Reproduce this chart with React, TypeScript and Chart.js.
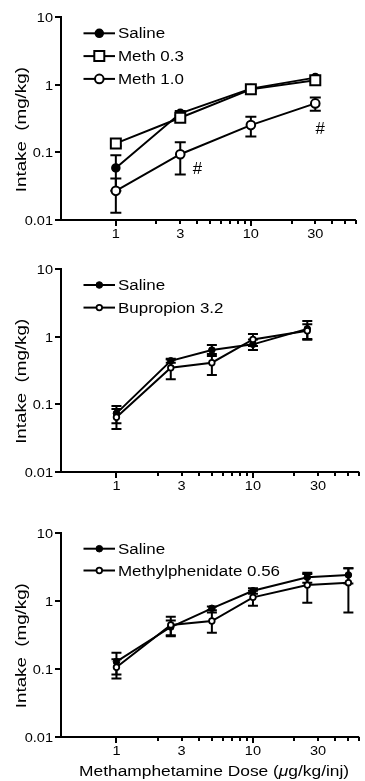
import React, { useEffect, useRef } from "react";
import { Chart, registerables } from "chart.js";

Chart.register(...registerables);

const FONT = "'Liberation Sans', Arial, Helvetica, sans-serif";

// ---------------- data ----------------
// Panel 1
const dosesA = [1, 3, 10, 30];
const salineA = [0.059, 0.38, 0.88, 1.28];
const salineASem = [0.032, 0.03, 0.05, 0.06];
const meth03 = [0.136, 0.326, 0.858, 1.17];
const meth03Sem = [0.012, 0.03, 0.05, 0.08];
const meth10 = [0.027, 0.094, 0.254, 0.532];
const meth10Sem = [0.0142, 0.047, 0.082, 0.117];
const hashX = [4.0, 32.5];
const hashY = [0.058, 0.23];

// Panel 2
const dosesB = [1, 2.5, 5, 10, 25];
const salineB = [0.073, 0.438, 0.631, 0.767, 1.3];
const salineBSem = [0.021, 0.03, 0.117, 0.136, 0.4];
const bupropion = [0.064, 0.345, 0.41, 0.908, 1.22];
const bupropionSem = [0.021, 0.112, 0.141, 0.18, 0.3];

// Panel 3
const dosesC = [1, 2.5, 5, 10, 25, 50];
const salineC = [0.127, 0.41, 0.773, 1.4, 2.21, 2.39];
const salineCSem = [0.045, 0.1, 0.05, 0.13, 0.37, 0.6];
const methylphenidate = [0.105, 0.44, 0.503, 1.12, 1.7, 1.84];
const methylphenidateSem = [0.033, 0.14, 0.165, 0.28, 0.77, 1.17];

// Axes
const yMin = 0.01;
const yMax = 10;
const yTicks = [0.01, 0.1, 1, 10];
const yTickLabels = ["0.01", "0.1", "1", "10"];
const xMin = 0.3925;
const xMax = 60;
const xMajorTicks = [1, 10];
const xMinorTicks = [2, 3, 4, 5, 6, 7, 8, 9, 20, 30, 40, 50, 60];
const xLabelTicks = [1, 3, 10, 30];
const xTickLabels = ["1", "3", "10", "30"];
const yTitle = "Intake  (mg/kg)";
const xTitleParts: [string, string][] = [
  ["Methamphetamine Dose (", "normal"],
  ["\u03bc", "italic"],
  ["g/kg/inj)", "normal"],
];

// ---------------- types ----------------
type Style = "filled" | "open" | "square";
interface Series {
  label: string;
  doses: number[];
  values: number[];
  sem: number[];
  style: Style;
}
interface PanelCfg {
  series: Series[];
  top: number;
  height: number;
  padTop: number;
  padBottom: number;
  large: boolean;
  capWidth: number;
  legendGap: number;
  hashes?: { x: number[]; y: number[] };
  xTitle?: boolean;
}

const panels: PanelCfg[] = [
  {
    series: [
      { label: "Saline", doses: dosesA, values: salineA, sem: salineASem, style: "filled" },
      { label: "Meth 0.3", doses: dosesA, values: meth03, sem: meth03Sem, style: "square" },
      { label: "Meth 1.0", doses: dosesA, values: meth10, sem: meth10Sem, style: "open" },
    ],
    top: 0,
    height: 250,
    padTop: 17.3,
    padBottom: 30,
    large: true,
    capWidth: 11,
    legendGap: 22.8,
    hashes: { x: hashX, y: hashY },
  },
  {
    series: [
      { label: "Saline", doses: dosesB, values: salineB, sem: salineBSem, style: "filled" },
      { label: "Bupropion 3.2", doses: dosesB, values: bupropion, sem: bupropionSem, style: "open" },
    ],
    top: 250,
    height: 260,
    padTop: 19,
    padBottom: 38.3,
    large: false,
    capWidth: 10,
    legendGap: 22.6,
  },
  {
    series: [
      { label: "Saline", doses: dosesC, values: salineC, sem: salineCSem, style: "filled" },
      { label: "Methylphenidate 0.56", doses: dosesC, values: methylphenidate, sem: methylphenidateSem, style: "open" },
    ],
    top: 510,
    height: 271,
    padTop: 22.7,
    padBottom: 44.3,
    large: false,
    capWidth: 10,
    legendGap: 21.8,
    xTitle: true,
  },
];

// ---------------- helpers ----------------
interface Marker {
  pointStyle: "rect" | "circle";
  radius: number;
  border: number;
  fill: string;
}
function markerFor(style: Style, large: boolean): Marker {
  if (style === "square") return { pointStyle: "rect", radius: 7.07, border: 2, fill: "#fff" };
  if (style === "filled")
    return { pointStyle: "circle", radius: large ? 4 : 3.3, border: large ? 1.5 : 1, fill: "#000" };
  return { pointStyle: "circle", radius: large ? 4.3 : 2.8, border: large ? 2 : 1.8, fill: "#fff" };
}

function drawMarker(ctx: CanvasRenderingContext2D, m: Marker, x: number, y: number) {
  ctx.save();
  ctx.fillStyle = m.fill;
  ctx.strokeStyle = "#000";
  ctx.lineWidth = m.border;
  ctx.beginPath();
  if (m.pointStyle === "rect") {
    const s = Math.SQRT1_2 * m.radius;
    ctx.rect(x - s, y - s, 2 * s, 2 * s);
  } else {
    ctx.arc(x, y, m.radius, 0, Math.PI * 2);
  }
  ctx.fill();
  ctx.stroke();
  ctx.restore();
}

function drawText(
  ctx: CanvasRenderingContext2D,
  parts: [string, string][],
  x: number,
  y: number,
  size: number,
  sx: number,
  align: "left" | "center" | "right"
) {
  ctx.save();
  let total = 0;
  const widths = parts.map(([t, st]) => {
    ctx.font = `${st} ${size}px ${FONT}`;
    const w = ctx.measureText(t).width;
    total += w;
    return w;
  });
  const x0 = align === "center" ? x - (total * sx) / 2 : align === "right" ? x - total * sx : x;
  ctx.translate(x0, y);
  ctx.scale(sx, 1);
  ctx.fillStyle = "#000";
  ctx.textAlign = "left";
  ctx.textBaseline = "alphabetic";
  let cx = 0;
  parts.forEach(([t, st], i) => {
    ctx.font = `${st} ${size}px ${FONT}`;
    ctx.fillText(t, cx, 0);
    cx += widths[i];
  });
  ctx.restore();
}

function makePlugin(cfg: PanelCfg) {
  return {
    id: "panelDeco",
    beforeDatasetsDraw(chart: any) {
      const { ctx, chartArea: a } = chart;
      const xs = chart.scales.x;
      const ys = chart.scales.y;
      const L = Math.round(a.left);
      const B = Math.round(a.bottom);
      const R = a.right;
      const T = Math.round(ys.getPixelForValue(yMax));
      ctx.save();
      ctx.strokeStyle = "#000";
      ctx.lineWidth = 2;
      ctx.beginPath();
      ctx.moveTo(L, T - 1);
      ctx.lineTo(L, B + 1);
      ctx.moveTo(L - 1, B);
      ctx.lineTo(R, B);
      ctx.stroke();
      // y ticks + labels
      yTicks.forEach((v, i) => {
        const py = Math.round(ys.getPixelForValue(v));
        ctx.beginPath();
        ctx.moveTo(L - 6, py);
        ctx.lineTo(L, py);
        ctx.stroke();
        drawText(ctx, [[yTickLabels[i], "normal"]], L - 8, py + 4.6, 13, 1.12, "right");
      });
      // x ticks
      const tick = (v: number, len: number) => {
        const px = Math.round(xs.getPixelForValue(v));
        ctx.beginPath();
        ctx.moveTo(px, B);
        ctx.lineTo(px, B + len + 1);
        ctx.stroke();
      };
      xMajorTicks.forEach((v) => tick(v, 5));
      xMinorTicks.forEach((v) => tick(v, 3));
      xLabelTicks.forEach((v, i) => {
        const px = xs.getPixelForValue(v);
        drawText(ctx, [[xTickLabels[i], "normal"]], px, B + 18.2, 13, 1.12, "center");
      });
      ctx.restore();
    },
    beforeDatasetDraw(chart: any, args: any) {
      const s = cfg.series[args.index];
      if (!s) return;
      const { ctx, chartArea: a } = chart;
      const xs = chart.scales.x;
      const ys = chart.scales.y;
      const hw = cfg.capWidth / 2;
      ctx.save();
      ctx.strokeStyle = "#000";
      ctx.lineWidth = 2;
      s.doses.forEach((d, j) => {
        const v = s.values[j];
        const e = s.sem[j];
        const px = xs.getPixelForValue(d);
        const top = ys.getPixelForValue(v + e);
        const lowVal = v - e;
        const bot = lowVal > 0 ? Math.min(ys.getPixelForValue(lowVal), a.bottom) : a.bottom;
        ctx.beginPath();
        ctx.moveTo(px, top);
        ctx.lineTo(px, bot);
        ctx.moveTo(px - hw, top);
        ctx.lineTo(px + hw, top);
        if (lowVal > 0) {
          ctx.moveTo(px - hw, bot);
          ctx.lineTo(px + hw, bot);
        }
        ctx.stroke();
      });
      ctx.restore();
    },
    afterDatasetsDraw(chart: any) {
      const { ctx, chartArea: a } = chart;
      const xs = chart.scales.x;
      const ys = chart.scales.y;
      const L = a.left;
      // legend
      cfg.series.forEach((s, r) => {
        const yy = a.top + 16 + r * cfg.legendGap;
        ctx.save();
        ctx.strokeStyle = "#000";
        ctx.lineWidth = 2;
        ctx.beginPath();
        ctx.moveTo(L + 22.5, yy);
        ctx.lineTo(L + 54, yy);
        ctx.stroke();
        ctx.restore();
        drawMarker(ctx, markerFor(s.style, cfg.large), L + 38.3, yy);
        drawText(ctx, [[s.label, "normal"]], L + 57, yy + 5, 14, 1.21, "left");
      });
      // y title
      ctx.save();
      ctx.translate(20.5, (a.top + a.bottom) / 2 + 11);
      ctx.rotate(-Math.PI / 2);
      drawText(ctx, [[yTitle, "normal"]], 0, 0.36 * 15, 15, 1.25, "center");
      ctx.restore();
      // significance marks
      if (cfg.hashes) {
        cfg.hashes.x.forEach((hx, i) => {
          const px = xs.getPixelForValue(hx);
          const py = ys.getPixelForValue(cfg.hashes!.y[i]);
          drawText(ctx, [["#", "italic"]], px, py + 5.8, 16, 1.05, "center");
        });
      }
      // x title
      if (cfg.xTitle) {
        drawText(ctx, xTitleParts, (a.left + a.right) / 2 + 4, a.bottom + 39.3, 14, 1.24, "center");
      }
    },
  };
}

function Panel({ cfg }: { cfg: PanelCfg }) {
  const ref = useRef<HTMLCanvasElement | null>(null);
  useEffect(() => {
    const canvas = ref.current;
    if (!canvas) return;
    const n = cfg.series.length;
    const chart = new Chart(canvas, {
      type: "line",
      data: {
        datasets: cfg.series.map((s, i) => {
          const m = markerFor(s.style, cfg.large);
          return {
            label: s.label,
            data: s.doses.map((d, j) => ({ x: d, y: s.values[j] })),
            borderColor: "#000",
            borderWidth: 2,
            pointStyle: m.pointStyle,
            pointRadius: m.radius,
            pointBorderWidth: m.border,
            pointBackgroundColor: m.fill,
            pointBorderColor: "#000",
            tension: 0,
            fill: false,
            order: n - i,
          };
        }),
      },
      options: {
        animation: false,
        responsive: false,
        devicePixelRatio: 1,
        events: [],
        layout: {
          padding: { left: 61, right: 5.6, top: cfg.padTop, bottom: cfg.padBottom },
        },
        scales: {
          x: { type: "logarithmic", min: xMin, max: xMax, display: false },
          y: { type: "logarithmic", min: yMin, max: yMax, display: false },
        },
        plugins: {
          legend: { display: false },
          tooltip: { enabled: false },
        },
      } as any,
      plugins: [makePlugin(cfg)],
    } as any);
    return () => chart.destroy();
  }, [cfg]);
  return (
    <canvas
      ref={ref}
      width={365}
      height={cfg.height}
      style={{ position: "absolute", left: 0, top: cfg.top, width: 365, height: cfg.height }}
    />
  );
}

export default function App() {
  return (
    <div
      style={{
        position: "fixed",
        left: 0,
        top: 0,
        width: 365,
        height: 781,
        background: "#fff",
        overflow: "hidden",
      }}
    >
      {panels.map((p, i) => (
        <Panel key={i} cfg={p} />
      ))}
    </div>
  );
}
